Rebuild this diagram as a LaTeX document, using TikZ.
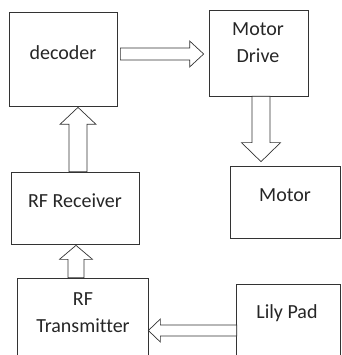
\documentclass[tikz,border=0pt]{standalone}
\usepackage{fontspec}
\setmainfont[Ligatures=NoCommon]{Carlito}
\usetikzlibrary{calc}
% block arrow: tail, tip, shaft half width, head half width, head length
\newcommand{\blockarrow}[5]{%
  \coordinate (hb) at ($(#2)!#5!(#1)$);
  \draw[barrow] ($(#1)!#3!90:(#2)$) -- ($(hb)!#3!90:(#2)$) -- ($(hb)!#4!90:(#2)$)
    -- (#2) -- ($(hb)!#4!-90:(#2)$) -- ($(hb)!#3!-90:(#2)$) -- ($(#1)!#3!-90:(#2)$) -- cycle;
}
\begin{document}
\begin{tikzpicture}[x=1pt, y=-1pt,
  box/.style={draw=black!80, line width=0.7pt, inner sep=0pt},
  lbl/.style={font=\fontsize{20}{27}\selectfont, text=black!85, inner sep=0pt},
  barrow/.style={draw=black!80, line width=0.7pt, fill=white, line join=miter}]
\useasboundingbox (0,0) rectangle (341,355);
\clip (0,0) rectangle (341,355);
% boxes
\node[box, minimum width=108pt, minimum height=94pt] (dec) at (63,59) {};
\node[box, minimum width=99pt, minimum height=86pt] (drv) at (258.5,53) {};
\node[box, minimum width=110pt, minimum height=72pt] (mot) at (285,202) {};
\node[box, minimum width=128pt, minimum height=72pt] (rec) at (75,208) {};
\node[box, minimum width=131pt, minimum height=92pt] (tx) at (82.5,324) {};
\node[box, minimum width=104pt, minimum height=86pt] (lily) at (288,327) {};
% labels
\node[lbl, anchor=base] (decT) at (63,60) {decoder};
\node[lbl, anchor=base, align=center] (drvT) at (258,63) {Motor\\Drive};
\node[lbl, anchor=base] (motT) at (285,201) {Motor};
\node[lbl, anchor=base] (recT) at (75,207) {RF Receiver};
\node[lbl, anchor=base, align=center] (txT) at (83,332) {RF\\Transmitter};
\node[lbl, anchor=base] (lilyT) at (287,318) {Lily Pad};
% arrows
\coordinate (a1s) at ($(dec.east)+(3,-5)$);
\coordinate (a1t) at ($(drv.west)+(-5,1)$);
\blockarrow{a1s}{a1t}{6pt}{13pt}{14pt}
\coordinate (a2s) at ($(drv.south)+(2.5,0)$);
\coordinate (a2t) at ($(mot.north)+(-24,-4)$);
\blockarrow{a2s}{a2t}{9pt}{19.5pt}{19pt}
\coordinate (a3s) at ($(rec.north)+(3,0)$);
\coordinate (a3t) at ($(dec.south)+(15,1)$);
\blockarrow{a3s}{a3t}{9pt}{18pt}{17pt}
\coordinate (a4s) at ($(tx.north)+(-6.5,0)$);
\coordinate (a4t) at ($(rec.south)+(1,1)$);
\blockarrow{a4s}{a4t}{8pt}{16.5pt}{14pt}
\coordinate (a5s) at ($(lily.west)+(1,3.5)$);
\coordinate (a5t) at ($(tx.east)+(0,6.5)$);
\blockarrow{a5s}{a5t}{5.5pt}{11.5pt}{12pt}
\end{tikzpicture}
\end{document}
